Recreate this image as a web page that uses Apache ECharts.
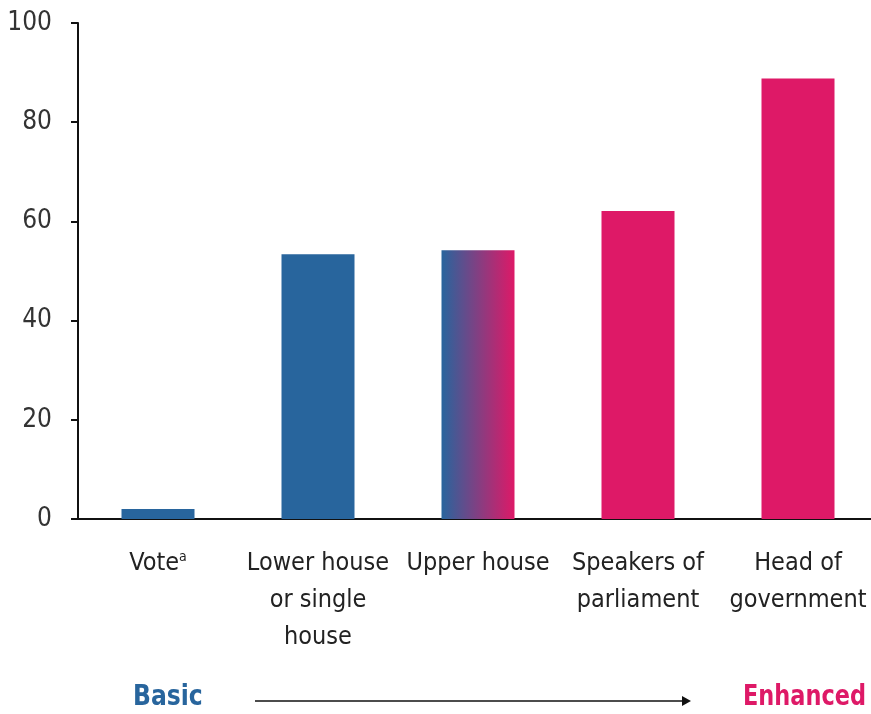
<!DOCTYPE html>
<html>
<head>
<meta charset="utf-8">
<script src="https://cdn.jsdelivr.net/npm/echarts@6/dist/echarts.min.js"></script>
<style>
  html, body { margin: 0; padding: 0; background: #fff; }
  #chart { width: 871px; height: 714px; }
</style>
</head>
<body>
<div id="chart"></div>
<script>
// data
var categories = ['Vote', 'Lower house\nor single\nhouse', 'Upper house', 'Speakers of\nparliament', 'Head of\ngovernment'];
var values = [2, 53.4, 54.2, 62.1, 88.8];
var yTicks = [0, 20, 40, 60, 80, 100];

var blue = '#28659d';
var pink = '#de1967';
var font = "'Liberation Sans Narrow', 'DejaVu Sans Condensed', 'Roboto', sans-serif";

var myChart = echarts.init(document.getElementById('chart'));

// per-bar fill: blue, blue, blue->pink, pink, pink
var fills = [
  blue,
  blue,
  new echarts.graphic.LinearGradient(0, 0, 1, 0, [
    { offset: 0, color: blue },
    { offset: 1, color: pink }
  ]),
  pink,
  pink
];

var option = {
  animation: false,
  textStyle: { fontFamily: font },
  grid: {
    left: 78,
    width: 800,
    top: 23,
    bottom: 195,
    outerBoundsMode: 'none'
  },
  xAxis: {
    type: 'category',
    data: categories,
    axisLine: { lineStyle: { color: '#111', width: 2 } },
    axisTick: { show: false },
    axisLabel: {
      interval: 0,
      margin: 26,
      fontSize: 25,
      lineHeight: 37,
      color: '#222',
      fontFamily: font,
      formatter: function (v) {
        return v === 'Vote' ? 'Vote{sup|a}' : v;
      },
      rich: {
        sup: { fontSize: 14, color: '#222', fontFamily: font, padding: [0, 0, 12, 0] }
      }
    }
  },
  yAxis: {
    type: 'value',
    min: yTicks[0],
    max: yTicks[yTicks.length - 1],
    interval: 20,
    axisLine: { show: true, lineStyle: { color: '#111', width: 2 } },
    axisTick: { show: true, length: 7, lineStyle: { color: '#111', width: 2 } },
    axisLabel: {
      margin: 26,
      fontSize: 26,
      color: '#333',
      fontFamily: font
    },
    splitLine: { show: false }
  },
  series: [
    {
      type: 'bar',
      barWidth: 73,
      data: values.map(function (v, i) {
        return { value: v, itemStyle: { color: fills[i] } };
      })
    }
  ],
  graphic: [
    {
      type: 'text',
      x: 133,
      y: 683,
      scaleX: 0.9,
      style: { text: 'Basic', fill: blue, font: 'bold 29px ' + font, textAlign: 'left' }
    },
    {
      type: 'text',
      x: 866,
      y: 683,
      scaleX: 0.86,
      style: { text: 'Enhanced', fill: pink, font: 'bold 29px ' + font, textAlign: 'right' }
    },
    {
      type: 'line',
      shape: { x1: 255, y1: 701, x2: 684, y2: 701 },
      style: { stroke: '#111', lineWidth: 1.5 }
    },
    {
      type: 'polygon',
      shape: { points: [[682, 696], [691, 701], [682, 706]] },
      style: { fill: '#111' }
    }
  ]
};

myChart.setOption(option);
window.onresize = myChart.resize;
</script>
</body>
</html>
